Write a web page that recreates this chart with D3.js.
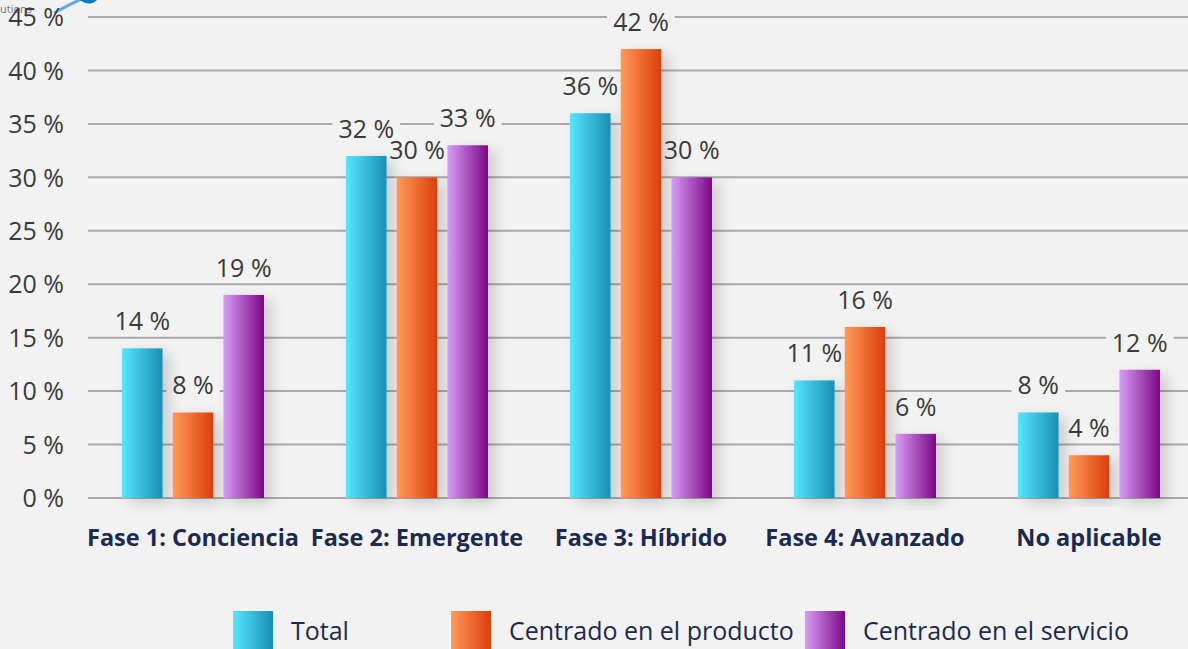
<!DOCTYPE html>
<html><head><meta charset="utf-8">
<script src="https://cdn.jsdelivr.net/npm/d3@7"></script>
<style>body{margin:0;background:#f2f2f2;overflow:hidden}svg{display:block}</style>
</head><body>
<svg id="c" width="1188" height="649"></svg>
<script>
const categories = ["Fase 1: Conciencia","Fase 2: Emergente","Fase 3: Híbrido","Fase 4: Avanzado","No aplicable"];
const seriesNames = ["Total","Centrado en el producto","Centrado en el servicio"];
const totalValues = [14,32,36,11,8];
const productValues = [8,30,42,16,4];
const serviceValues = [19,33,30,6,12];
const yTicks = [0,5,10,15,20,25,30,35,40,45];
const seriesValues = [totalValues, productValues, serviceValues];
const gradStops = [["#57e5ff","#1990b5"],["#ff9a57","#da3f0c"],["#d89cf7","#7b0886"]];

const W = 1188, H = 649, font = "'Open Sans', 'Noto Sans', sans-serif";
const svg = d3.select("#c");
svg.append("rect").attr("width",W).attr("height",H).attr("fill","#f2f2f2");
const defs = svg.append("defs");
gradStops.forEach((s,i)=>{
  const g = defs.append("linearGradient").attr("id","g"+i).attr("x1","0").attr("x2","1").attr("y1","0").attr("y2","0");
  g.append("stop").attr("offset","0").attr("stop-color",s[0]);
  g.append("stop").attr("offset","1").attr("stop-color",s[1]);
});
const f = defs.append("filter").attr("id","sh").attr("x","-50%").attr("y","-20%").attr("width","200%").attr("height","140%");
f.append("feDropShadow").attr("dx",7).attr("dy",5).attr("stdDeviation",7).attr("flood-color","#000").attr("flood-opacity",0.16);

const y = d3.scaleLinear().domain([0,45]).range([498,17]);
const x0 = d3.scaleBand().domain(categories).range([81,1201]).padding(0);
const x1 = d3.scaleBand().domain(seriesNames).range([41,183]).paddingInner(0.2).paddingOuter(0);

// grid
svg.append("g").selectAll("line").data(yTicks).join("line")
  .attr("x1",88).attr("x2",W).attr("y1",d=>y(d)).attr("y2",d=>y(d))
  .attr("stroke","#a9a9a9").attr("stroke-width",2);

// cropped watermark
svg.append("text").attr("x",0).attr("y",13).attr("font-family",font).attr("font-size",11).attr("fill","#777").text("utions");
svg.append("path").attr("d","M54,13 Q70,4 84,-2").attr("stroke","#5aaee0").attr("stroke-width",3).attr("fill","none");
svg.append("path").attr("d","M80,0 Q90,7 97,0 Z").attr("fill","#0a78c8");

// y axis labels
const yAxis = d3.axisLeft(y).tickValues(yTicks).tickSize(0).tickPadding(0).tickFormat(d=>d+" %");
const ya = svg.append("g").attr("transform","translate(64,0)").call(yAxis);
ya.select(".domain").remove();
ya.selectAll("text").attr("font-family",font).attr("font-size",25).attr("fill","#3a3a3a").attr("dy","0.35em");

const bgLayer = svg.append("g");
const barLayer = svg.append("g");
const txtLayer = svg.append("g");

// bars
const groups = barLayer.selectAll("g").data(categories).join("g")
  .attr("transform",d=>`translate(${x0(d)},0)`);
seriesNames.forEach((s,si)=>{
  groups.append("rect")
    .attr("x",x1(s)).attr("width",x1.bandwidth())
    .attr("y",(d,i)=>y(seriesValues[si][i]))
    .attr("height",(d,i)=>y(0)-y(seriesValues[si][i]))
    .attr("fill",`url(#g${si})`).attr("filter","url(#sh)");
});
// value labels
const tGroups = txtLayer.selectAll("g").data(categories).join("g")
  .attr("transform",d=>`translate(${x0(d)},0)`);
seriesNames.forEach((s,si)=>{
  tGroups.append("text")
    .attr("x",x1(s)+x1.bandwidth()/2).attr("y",(d,i)=>y(seriesValues[si][i])-18)
    .attr("text-anchor","middle").attr("font-family",font).attr("font-size",25)
    .attr("fill","#3a3a3a").text((d,i)=>seriesValues[si][i]+" %")
    .each(function(d){
      const b = this.getBBox();
      bgLayer.append("rect").attr("x",x0(d)+b.x-6).attr("y",b.y+8).attr("width",b.width+12).attr("height",b.height-14).attr("fill","#f2f2f2");
    });
});

// x axis labels
const xAxis = d3.axisBottom(x0).tickSize(0).tickPadding(0);
const xa = svg.append("g").attr("transform","translate(0,546)").call(xAxis);
xa.select(".domain").remove();
xa.selectAll("text").attr("font-family",font).attr("font-size",23.5).attr("font-weight","bold").attr("fill","#1b2a4e").attr("dy","0");
xa.selectAll(".tick").attr("transform",d=>`translate(${x0(d)+112},0)`);

// legend
const legX = [233,451,805];
const leg = svg.append("g").selectAll("g").data(seriesNames).join("g")
  .attr("transform",(d,i)=>`translate(${legX[i]},611)`);
leg.append("rect").attr("width",40).attr("height",40).attr("fill",(d,i)=>`url(#g${i})`);
leg.append("text").attr("x",58).attr("y",29).attr("font-family",font).attr("font-size",25).attr("fill","#1b2a4e").text(d=>d);
</script>
</body></html>
